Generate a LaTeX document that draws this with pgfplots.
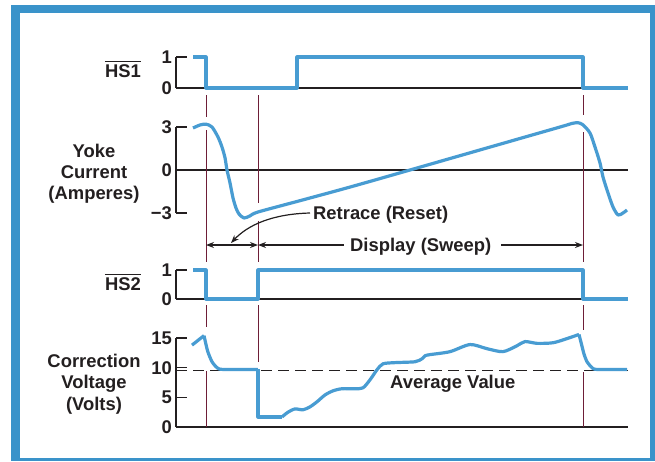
\documentclass[border=0pt]{standalone}
\usepackage{fontspec}
\setmainfont{Liberation Sans}
\usepackage{pgfplots}
\pgfplotsset{compat=1.18}
\usetikzlibrary{arrows.meta}
\definecolor{frameblue}{RGB}{58,147,202}
\definecolor{curveblue}{RGB}{72,156,210}
\definecolor{ink}{RGB}{35,31,32}
\definecolor{marker}{RGB}{110,30,55}
\newcommand{\lbl}{\fontsize{18.4}{21}\selectfont\bfseries}
\pgfplotsset{
  panel/.style={
    scale only axis, width=452pt, xmin=0, xmax=452, enlargelimits=false, clip=false,
    xtick=\empty,
    axis y line=left,
    axis line style={-, line width=1.5pt, ink},
    every outer x axis line/.append style={-},
    every inner x axis line/.append style={-},
    every outer y axis line/.append style={-},
    tick style={line width=1.5pt, ink},
    major tick length=11pt,
    tick align=inside,
    yticklabel style={font=\lbl, text=ink, inner sep=0pt, xshift=-4pt},
    anchor=south west,
  },
  sig/.style={curveblue, line width=3.2pt, line join=round, no markers},
}
\begin{document}
\begin{tikzpicture}[x=1pt,y=1pt]
\fill[white] (0,0) rectangle (655,-461);
\fill[frameblue] (11,-4.5) rectangle (655,-461);
\fill[white] (20,-13) rectangle (650,-458);
\useasboundingbox (0,0) rectangle (655,-461);

% HS1
\begin{axis}[panel, at={(176pt,-88pt)}, height=31pt, ymin=0, ymax=1,
  axis x line*=bottom, ytick={0,1}, yticklabels={0,1}]
\addplot[sig] coordinates {(17,1) (30,1) (30,0) (121,0) (121,1) (407,1) (407,0) (452,0)};
\end{axis}

% Yoke current
\begin{axis}[panel, at={(176pt,-213pt)}, height=86pt, ymin=-3, ymax=3,
  axis x line*=middle, ytick={-3,0,3}, yticklabels={−3,0,3}]
\addplot[sig, smooth, tension=0.45] coordinates {
(17,2.93) (24,3.14) (30,3.2) (36,3.0) (42,2.3) (46,1.6) (49,0.85) (51,0)
(54,-0.9) (57,-1.95) (60,-2.65) (63,-3.07) (68,-3.35) (74,-3.2) (82,-2.93)
(124,-2.14) (174,-1.19) (234,0) (274,0.8) (314,1.6) (354,2.4) (389,3.1)
(396,3.25) (402,3.3) (407,3.15) (414,2.58) (419,1.6) (424,0.49) (427,-0.49)
(432,-1.6) (437,-2.58) (442,-3.14) (447,-3.0) (451,-2.79)};
\end{axis}

% HS2
\begin{axis}[panel, at={(176pt,-299pt)}, height=29pt, ymin=0, ymax=1,
  axis x line*=bottom, ytick={0,1}, yticklabels={0,1}]
\addplot[sig] coordinates {(17,1) (30,1) (30,0) (82,0) (82,1) (407,1) (407,0) (452,0)};
\end{axis}

% Correction voltage
\begin{axis}[panel, at={(176pt,-427pt)}, height=89pt, ymin=0, ymax=15,
  axis x line*=bottom, ytick={0,5,10,15}, yticklabels={0,5,10,15}]
\addplot[ink, line width=1.3pt, dash pattern=on 11pt off 6pt, no markers] coordinates {(0,9.5) (452,9.5)};
\addplot[sig] coordinates {(16,13.8) (22,14.6) (28,15.4)};
\addplot[sig, smooth, tension=0.4] coordinates {(28,15.4) (30,13.9) (32,12.6) (36,11.0) (41,10.0) (47,9.7) (82,9.7)};
\addplot[sig] coordinates {(82,9.7) (82,1.7) (106,1.7)};
\addplot[sig, smooth, tension=0.45] coordinates {
(106,1.7) (112,2.5) (119,3.05) (127,2.9) (134,3.4) (141,4.25) (149,5.4) (157,6.1)
(166,6.45) (179,6.45) (187,6.6) (194,7.95) (201,9.65) (207,10.65) (219,10.85)
(239,11.0) (246,11.5) (249,12.0) (254,12.2) (274,12.7) (294,13.9) (311,13.2)
(327,12.7) (341,13.7) (349,14.4) (361,14.1) (377,14.2) (391,14.9) (403,15.6)};
\addplot[sig, smooth, tension=0.4] coordinates {(403,15.6) (406,13.6) (408,12.3) (411,11.0) (416,10.0) (421,9.7) (451,9.7)};
\end{axis}

% left labels
\begin{scope}[every node/.style={font=\lbl, text=ink, inner sep=0pt}]
\node[anchor=base east] (hs1) at (141,-77) {HS1};
\draw[ink, line width=1.5pt] ([yshift=2.5pt]hs1.north west) -- ([yshift=2.5pt]hs1.north east);
\node[anchor=base east] (hs2) at (141,-290) {HS2};
\draw[ink, line width=1.5pt] ([yshift=2.5pt]hs2.north west) -- ([yshift=2.5pt]hs2.north east);
\node[anchor=base] at (94,-157) {Yoke};
\node[anchor=base] at (94,-178) {Current};
\node[anchor=base] at (94,-199) {(Amperes)};
\node[anchor=base] at (94,-367) {Correction};
\node[anchor=base] at (94,-388) {Voltage};
\node[anchor=base] at (94,-410) {(Volts)};
\node[anchor=base west] at (313,-219) {Retrace (Reset)};
\node[anchor=base west] at (350,-251) {Display (Sweep)};
\node[anchor=base west] at (390,-388) {Average Value};
\end{scope}

% marker lines
\begin{scope}[marker, line width=1pt]
\draw (206,-95) -- (206,-117); \draw (206,-130) -- (206,-262);
\draw (206,-305) -- (206,-327); \draw (206,-371) -- (206,-427);
\draw (258,-95) -- (258,-203); \draw (258,-221) -- (258,-262);
\draw (258,-305) -- (258,-362);
\draw (583,-95) -- (583,-115); \draw (583,-132) -- (583,-262);
\draw (583,-305) -- (583,-330); \draw (583,-372) -- (583,-427);
\end{scope}

% arrows
\begin{scope}[ink, line width=1.2pt, >={Stealth[length=8pt,width=6pt]}]
\draw[<->] (206,-245) -- (258,-245);
\draw[<-] (258,-245) -- (344,-245);
\draw[->] (501,-245) -- (583,-245);
\draw[->] (310,-213) .. controls (272,-214) and (248,-225) .. (231,-243);
\end{scope}
\end{tikzpicture}
\end{document}
